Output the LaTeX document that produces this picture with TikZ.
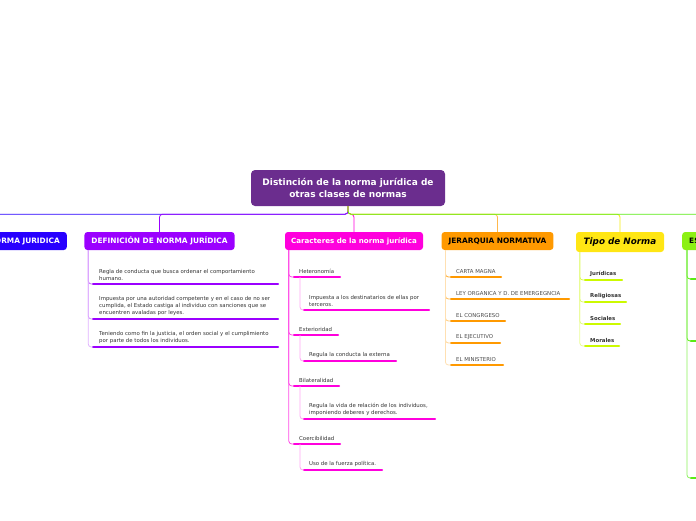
\documentclass[tikz,border=0pt]{standalone}
\usepackage{fontspec}
\setmainfont{DejaVu Sans}

\definecolor{rootpurple}{RGB}{107,45,142}
\definecolor{cblue}{RGB}{40,0,255}
\definecolor{cviolet}{RGB}{155,0,255}
\definecolor{cmag}{RGB}{255,0,221}
\definecolor{corange}{RGB}{255,153,0}
\definecolor{cyellow}{RGB}{255,230,20}
\definecolor{clime}{RGB}{204,250,0}
\definecolor{cgreen}{RGB}{90,235,20}
\definecolor{cgreenbox}{RGB}{140,240,20}

\tikzset{
  topic/.style={rounded corners=3pt, minimum height=18pt, inner xsep=7pt, inner ysep=0pt,
    font=\bfseries\fontsize{7.4}{9}\selectfont, text=white},
  leaf/.style={anchor=south west, inner sep=0pt, align=left,
    font=\fontsize{5.4}{7}\selectfont, text=black!80},
  uline/.style={line width=2.4pt, line cap=round},
  twig/.style={line width=0.8pt, rounded corners=3pt},
}

\begin{document}
\begin{tikzpicture}[x=1pt, y=-1pt]
    \useasboundingbox (0,0) rectangle (696,520);

    % Central topic
    \node[fill=rootpurple, rounded corners=4pt, minimum width=194pt, minimum height=36pt,
      text=white, align=center, font=\bfseries\fontsize{9}{11.5}\selectfont]
      (root) at (348,188) {Distinción de la norma jurídica de\\otras clases de normas};

    % Main topics
    \node[topic, fill=cblue, anchor=east, text width=136pt, align=right] (nj) at (67,241) {NORMA JURIDICA};
    \node[topic, fill=cviolet, minimum width=149pt] (def) at (159.5,241) {DEFINICIÓN DE NORMA JURÍDICA};
    \node[topic, fill=cmag, minimum width=138pt, inner xsep=4pt,
      font=\bfseries\fontsize{7.1}{9}\selectfont] (car) at (354,241) {Caracteres de la norma jurídica};
    \node[topic, fill=corange, minimum width=111pt, text=black] (jer) at (497.5,241) {JERARQUIA NORMATIVA};
    \node[topic, fill=cyellow, minimum width=88pt, minimum height=20pt, text=black,
      font=\bfseries\itshape\fontsize{8.8}{10}\selectfont] (tipo) at (620,242) {Tipo de Norma};
    \node[topic, fill=cgreenbox, anchor=west, text=black] (es) at (682,241) {ESTRUCTURA};

    % Branches from the centre
    \draw[twig, cblue] (root.south) -- ++(0,8) -| (nj.north);
    \draw[twig, cviolet] (root.south) -- ++(0,8) -| (def.north);
    \draw[twig, cmag] (root.south) -- ++(0,8) -| (car.north);
    \draw[twig, corange!70] (root.south) -- ++(0,8) -| (jer.north);
    \draw[twig, cyellow!80!clime] (root.south) -- ++(0,8) -| (tipo.north);
    \draw[twig, cgreen] (root.south) -- ++(0,8) -| (es.north);

    % Definicion
    \node[leaf] (d1) at (99,281) {Regla de conducta que busca ordenar el comportamiento\\humano.};
    \draw[uline, cviolet] ([xshift=-6pt,yshift=-3pt]d1.south west) coordinate (d1u) -- ++(185,0);
    \node[leaf] (d2) at (99,316) {Impuesta por una autoridad competente y en el caso de no ser\\cumplida, el Estado castiga al individuo con sanciones que se\\encuentren avaladas por leyes.};
    \draw[uline, cviolet] ([xshift=-6pt,yshift=-3pt]d2.south west) coordinate (d2u) -- ++(185,0);
    \node[leaf] (d3) at (99,344) {Teniendo como fin la justicia, el orden social y el cumplimiento\\por parte de todos los individuos.};
    \draw[uline, cviolet] ([xshift=-6pt,yshift=-3pt]d3.south west) coordinate (d3u) -- ++(185,0);
    \draw[twig, cviolet!60] ([xshift=4pt]def.south west) |- (d1u);
    \draw[twig, cviolet!45] ([xshift=4pt]def.south west) |- (d2u);
    \draw[twig, cviolet!30] ([xshift=4pt]def.south west) |- (d3u);

    % Caracteres
    \node[leaf] (c1) at (299,274) {Heteronomía};
    \draw[uline, cmag] ([xshift=-5pt,yshift=-3pt]c1.south west) coordinate (c1u) -- ++(46,0);
    \node[leaf] (c1a) at (309,307) {Impuesta a los destinatarios de ellas por\\terceros.};
    \draw[uline, cmag] ([xshift=-5pt,yshift=-3pt]c1a.south west) coordinate (c1au) -- ++(125,0);
    \node[leaf] (c2) at (299,332) {Exterioridad};
    \draw[uline, cmag] ([xshift=-5pt,yshift=-3pt]c2.south west) coordinate (c2u) -- ++(44,0);
    \node[leaf] (c2a) at (309,358) {Regula la conducta la externa};
    \draw[uline, cmag] ([xshift=-5pt,yshift=-3pt]c2a.south west) coordinate (c2au) -- ++(92,0);
    \node[leaf] (c3) at (299,383) {Bilateralidad};
    \draw[uline, cmag] ([xshift=-5pt,yshift=-3pt]c3.south west) coordinate (c3u) -- ++(45,0);
    \node[leaf] (c3a) at (309,416) {Regula la vida de relación de los individuos,\\imponiendo deberes y derechos.};
    \draw[uline, cmag] ([xshift=-5pt,yshift=-3pt]c3a.south west) coordinate (c3au) -- ++(131,0);
    \node[leaf] (c4) at (299,441) {Coercibilidad};
    \draw[uline, cmag] ([xshift=-5pt,yshift=-3pt]c4.south west) coordinate (c4u) -- ++(46,0);
    \node[leaf] (c4a) at (309,467) {Uso de la fuerza política.};
    \draw[uline, cmag] ([xshift=-5pt,yshift=-3pt]c4a.south west) coordinate (c4au) -- ++(78,0);
    \draw[twig, cmag!70] ([xshift=4pt]car.south west) |- (c1u);
    \draw[twig, cmag!70] ([xshift=4pt]car.south west) |- (c2u);
    \draw[twig, cmag!70] ([xshift=4pt]car.south west) |- (c3u);
    \draw[twig, cmag!70] ([xshift=4pt]car.south west) |- (c4u);
    \draw[twig, cmag!35] ([xshift=6pt]c1u) |- (c1au);
    \draw[twig, cmag!35] ([xshift=6pt]c2u) |- (c2au);
    \draw[twig, cmag!35] ([xshift=6pt]c3u) |- (c3au);
    \draw[twig, cmag!35] ([xshift=6pt]c4u) |- (c4au);

    % Jerarquia
    \node[leaf, text=black!70] (j1) at (456,274) {CARTA MAGNA};
    \draw[uline, corange] ([xshift=-5pt,yshift=-3pt]j1.south west) coordinate (j1u) -- ++(50,0);
    \node[leaf, text=black!70] (j2) at (456,296) {LEY ORGANICA Y D. DE EMERGEGNCIA};
    \draw[uline, corange] ([xshift=-5pt,yshift=-3pt]j2.south west) coordinate (j2u) -- ++(118,0);
    \node[leaf, text=black!70] (j3) at (456,318) {EL CONGRGESO};
    \draw[uline, corange] ([xshift=-5pt,yshift=-3pt]j3.south west) coordinate (j3u) -- ++(54,0);
    \node[leaf, text=black!70] (j4) at (456,340) {EL EJECUTIVO};
    \draw[uline, corange] ([xshift=-5pt,yshift=-3pt]j4.south west) coordinate (j4u) -- ++(49,0);
    \node[leaf, text=black!70] (j5) at (456,362) {EL MINISTERIO};
    \draw[uline, corange] ([xshift=-5pt,yshift=-3pt]j5.south west) coordinate (j5u) -- ++(52,0);
    \draw[twig, corange!80] ([xshift=4pt]jer.south west) |- (j1u);
    \draw[twig, corange!65] ([xshift=4pt]jer.south west) |- (j2u);
    \draw[twig, corange!50] ([xshift=4pt]jer.south west) |- (j3u);
    \draw[twig, corange!40] ([xshift=4pt]jer.south west) |- (j4u);
    \draw[twig, corange!30] ([xshift=4pt]jer.south west) |- (j5u);

    % Tipo de norma
    \node[leaf, font=\bfseries\fontsize{5.4}{7}\selectfont] (t1) at (590,277) {Jurídicas};
    \draw[uline, clime] ([xshift=-5pt,yshift=-3pt]t1.south west) coordinate (t1u) -- ++(37,0);
    \node[leaf, font=\bfseries\fontsize{5.4}{7}\selectfont] (t2) at (590,299) {Religiosas};
    \draw[uline, clime] ([xshift=-5pt,yshift=-3pt]t2.south west) coordinate (t2u) -- ++(41,0);
    \node[leaf, font=\bfseries\fontsize{5.4}{7}\selectfont] (t3) at (590,321) {Sociales};
    \draw[uline, clime] ([xshift=-5pt,yshift=-3pt]t3.south west) coordinate (t3u) -- ++(35,0);
    \node[leaf, font=\bfseries\fontsize{5.4}{7}\selectfont] (t4) at (590,343) {Morales};
    \draw[uline, clime] ([xshift=-5pt,yshift=-3pt]t4.south west) coordinate (t4u) -- ++(34,0);
    \draw[twig, clime!70] ([xshift=4pt]tipo.south west) |- (t1u);
    \draw[twig, clime!60] ([xshift=4pt]tipo.south west) |- (t2u);
    \draw[twig, clime!50] ([xshift=4pt]tipo.south west) |- (t3u);
    \draw[twig, clime!40] ([xshift=4pt]tipo.south west) |- (t4u);

    % Estructura (cut at the edge)
    \coordinate (e1u) at (691,279);
    \coordinate (e2u) at (691,341);
    \coordinate (e3u) at (691,478);
    \draw[uline, cgreen] (e1u) -- ++(12,0);
    \draw[uline, cgreen] (e2u) -- ++(12,0);
    \draw[uline, cgreen] (e3u) -- ++(12,0);
    \draw[twig, cgreen] ([xshift=5pt]es.south west) |- (e1u);
    \draw[twig, cgreen] ([xshift=5pt]es.south west) |- (e2u);
    \draw[twig, cgreen!70] ([xshift=5pt]es.south west) |- (e3u);

\end{tikzpicture}
\end{document}
